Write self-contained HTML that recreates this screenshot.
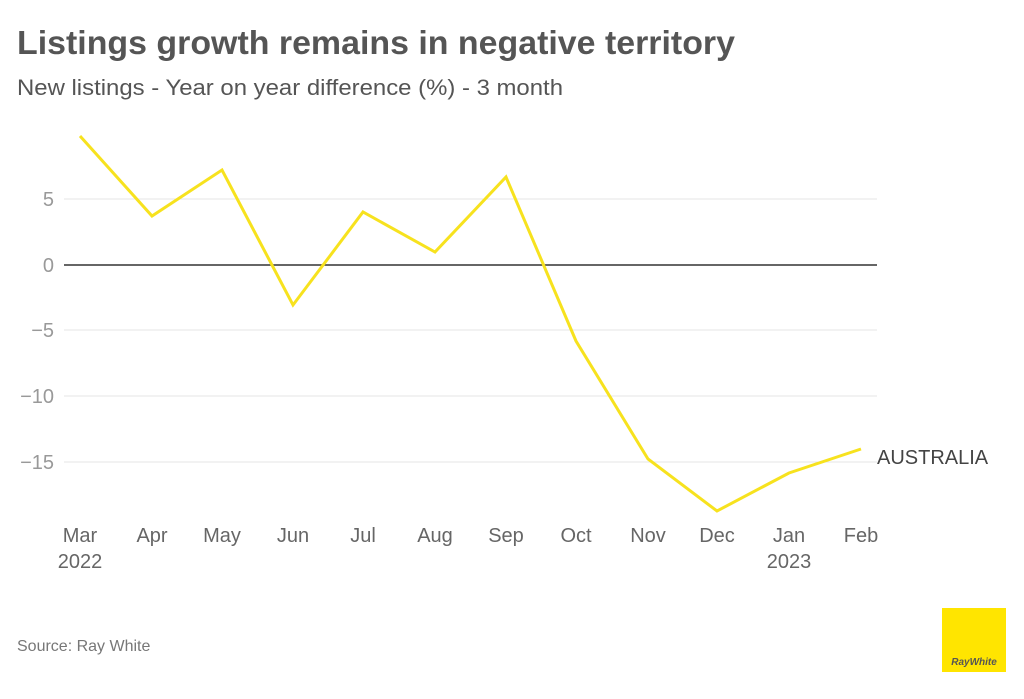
<!DOCTYPE html>
<html><head><meta charset="utf-8"><style>
body{margin:0;width:1024px;height:694px;background:#fff;font-family:"Liberation Sans",sans-serif;overflow:hidden}
</style></head><body>
<svg width="1024" height="694" xmlns="http://www.w3.org/2000/svg" font-family="Liberation Sans, sans-serif">
<text x="17" y="54" font-size="33.5" font-weight="bold" fill="#555" textLength="718" lengthAdjust="spacingAndGlyphs">Listings growth remains in negative territory</text>
<text x="17" y="95" font-size="22" fill="#555" textLength="546" lengthAdjust="spacingAndGlyphs">New listings - Year on year difference (%) - 3 month</text>
<g stroke="#e6e6e6" stroke-width="1">
<line x1="64" x2="877" y1="199" y2="199"/><line x1="64" x2="877" y1="330" y2="330"/>
<line x1="64" x2="877" y1="396" y2="396"/><line x1="64" x2="877" y1="462" y2="462"/>
</g>
<line x1="64" x2="877" y1="265" y2="265" stroke="#333" stroke-width="1.5"/>
<g font-size="20" fill="#999" text-anchor="end">
<text x="54" y="206">5</text><text x="54" y="272">0</text><text x="54" y="337">−5</text>
<text x="54" y="403">−10</text><text x="54" y="469">−15</text>
</g>
<polyline fill="none" stroke="#f7e21e" stroke-width="3" stroke-linejoin="miter" points="80,136 152,216 222,170 293,305 363,212 435,252 506,177 576,341 648,459 717,511 789,473 861,449"/>
<text x="877" y="464" font-size="20" fill="#444">AUSTRALIA</text>
<g font-size="20" fill="#666" text-anchor="middle">
<text x="80" y="542">Mar</text><text x="80" y="568">2022</text>
<text x="152" y="542">Apr</text><text x="222" y="542">May</text><text x="293" y="542">Jun</text>
<text x="363" y="542">Jul</text><text x="435" y="542">Aug</text><text x="506" y="542">Sep</text>
<text x="576" y="542">Oct</text><text x="648" y="542">Nov</text><text x="717" y="542">Dec</text>
<text x="789" y="542">Jan</text><text x="789" y="568">2023</text><text x="861" y="542">Feb</text>
</g>
<text x="17" y="651" font-size="16" fill="#777">Source: Ray White</text>
<rect x="942" y="608" width="64" height="64" fill="#ffe500"/>
<text x="974" y="665" font-size="10" font-weight="bold" font-style="italic" fill="#555" text-anchor="middle">RayWhite</text>
</svg>
</body></html>
